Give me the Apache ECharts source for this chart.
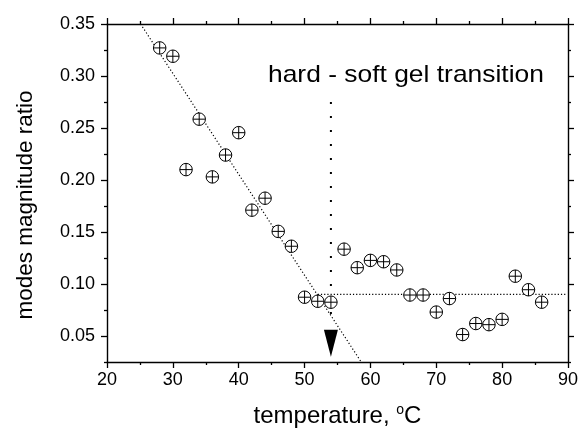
<!DOCTYPE html>
<html>
<head>
<meta charset="utf-8">
<script src="https://cdn.jsdelivr.net/npm/echarts@6/dist/echarts.min.js"></script>
<style>html,body{margin:0;padding:0;background:#fff}#c{width:581px;height:434px}</style>
</head>
<body>
<div id="c"></div>
<script>
// ---- data ----
const temperatures = [28,30,32,34,36,38,40,42,44,46,48,50,52,54,56,58,60,62,64,66,68,70,72,74,76,78,80,82,84,86];
const ratios = [0.327,0.319,0.210,0.2585,0.203,0.224,0.2455,0.171,0.1825,0.1506,0.1363,0.0873,0.0834,0.0825,0.1335,0.1157,0.1227,0.1214,0.1135,0.0894,0.0894,0.073,0.086,0.0514,0.062,0.0609,0.066,0.1075,0.0945,0.0825];
const hardFitX = [25.1, 58.6];
const hardFitY = [0.35, 0.025];
const softLevelX = [52.0, 89.7];
const softLevelY = [0.09, 0.09];
const transitionT = 54;
const transitionLineY = [0.275, 0.06];
const arrowY = 0.043;
const annotation = 'hard - soft gel transition';
const xTicks = [20,30,40,50,60,70,80,90];
const yTicks = [0.05,0.10,0.15,0.20,0.25,0.30,0.35];
const yMinorTicks = [0.025,0.075,0.125,0.175,0.225,0.275,0.325];
const yRange = [0.025, 0.35];

const FONT = '"Liberation Sans", Arial, sans-serif';
const chart = echarts.init(document.getElementById('c'), null, {renderer:'canvas'});

const axisLineStyle = {show:true, onZero:false, lineStyle:{color:'#000', width:1.4}};
function yAx(pos, values, len, showLine, showLabel, name){
  const a = {
    type:'value', position:pos, min:yRange[0], max:yRange[1],
    axisLine: showLine ? axisLineStyle : {show:false, onZero:false},
    axisTick:{show:true, inside:false, length:len, customValues:values, lineStyle:{color:'#000', width:1.3}},
    axisLabel:{show:showLabel, customValues:values, margin:12, color:'#000', fontSize:18, fontFamily:FONT,
      formatter:v=>v.toFixed(2)},
    splitLine:{show:false}
  };
  if (name){
    a.name = name; a.nameLocation='middle'; a.nameGap=70;
    a.nameTextStyle={color:'#000', fontSize:22.5, fontFamily:FONT, padding:[0,24,0,0]};
  }
  return a;
}
function xAx(pos, showLabel, name){
  const a = {
    type:'value', position:pos, min:xTicks[0], max:xTicks[xTicks.length-1], interval:10,
    axisLine: axisLineStyle,
    axisTick:{show:true, inside:false, length:6, lineStyle:{color:'#000', width:1.3}},
    minorTick:{show:true, splitNumber:2, length:3, lineStyle:{color:'#000', width:1.3}},
    axisLabel:{show:showLabel, margin:9, color:'#000', fontSize:18, fontFamily:FONT},
    splitLine:{show:false}, minorSplitLine:{show:false}
  };
  if (name){
    a.name = name; a.nameLocation='middle'; a.nameGap=41;
    a.nameTextStyle={color:'#000', fontSize:24, fontFamily:FONT, lineHeight:26,
      rich:{n:{fontSize:24, fontFamily:FONT, color:'#000', lineHeight:26}, sup:{fontSize:14, fontFamily:FONT, color:'#000', verticalAlign:'top', lineHeight:26}}};
  }
  return a;
}

const markerPath = 'path://M12,0A12,12 0 1,1 12,24A12,12 0 1,1 12,0Z M0,12L24,12 M12,0L12,24';

const option = {
  backgroundColor:'#fff',
  animation:false,
  grid:{left:107, right:13, top:24, bottom:68},
  xAxis:[ xAx('bottom', true, '{n|temperature, }{sup|o}{n|C}'), xAx('top', false) ],
  yAxis:[
    yAx('left', yTicks, 6, true, true, 'modes magnitude ratio'),
    yAx('left', yMinorTicks, 3, false, false),
    yAx('right', yTicks, 6, true, false),
    yAx('right', yMinorTicks, 3, false, false)
  ],
  graphic:[{
    type:'text', x:268, y:63, scaleX:1.1,
    style:{text:annotation, font:'24px ' + FONT, fill:'#000'}
  }],
  series:[
    {type:'line', xAxisIndex:0, yAxisIndex:0, symbol:'none', z:2,
     data: hardFitX.map((x,i)=>[x, hardFitY[i]]),
     lineStyle:{color:'#000', width:1.2, type:[1.2,2.2]}},
    {type:'line', xAxisIndex:0, yAxisIndex:0, symbol:'none', z:2,
     data: softLevelX.map((x,i)=>[x, softLevelY[i]]),
     lineStyle:{color:'#000', width:1.2, type:[1.2,2]}},
    {type:'line', xAxisIndex:0, yAxisIndex:0, symbol:'none', z:2,
     data: transitionLineY.map(y=>[transitionT, y]),
     lineStyle:{color:'#000', width:2, type:[2,12]}},
    {type:'scatter', xAxisIndex:0, yAxisIndex:0, z:3,
     data:[[transitionT, arrowY]], symbol:'triangle', symbolRotate:180, symbolSize:[14,27],
     itemStyle:{color:'#000', opacity:1}},
    {type:'scatter', xAxisIndex:0, yAxisIndex:0, z:5,
     data: temperatures.map((t,i)=>[t, ratios[i]]),
     symbol:markerPath, symbolSize:12.5,
     itemStyle:{color:'#fff', borderColor:'#000', borderWidth:1, opacity:1}}
  ]
};
chart.setOption(option);
</script>
</body>
</html>
